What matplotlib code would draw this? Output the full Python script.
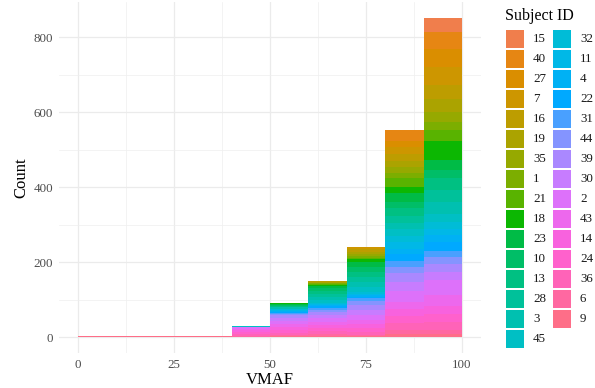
import numpy as np
import matplotlib
matplotlib.use("Agg")
import matplotlib.pyplot as plt
from matplotlib.patches import Rectangle

plt.rcParams['font.family'] = ['Liberation Serif', 'DejaVu Serif']

# subjects in legend / stacking order (first one sits on top of each bar)
subject_ids = ["15", "40", "27", "7", "16", "19", "35", "1", "21", "18", "23", "10",
               "13", "28", "3", "45", "32", "11", "4", "22", "31", "44", "39", "30",
               "2", "43", "14", "24", "36", "6", "9"]

bin_edges = [0, 10, 20, 30, 40, 50, 60, 70, 80, 90, 100]

# counts per VMAF bin, one value per subject (same order as subject_ids)
counts_0_10 = [0] * 30 + [2]
counts_10_20 = [0] * 30 + [2]
counts_20_30 = [0] * 30 + [2]
counts_30_40 = [0] * 30 + [2]
counts_40_50 = [0, 0, 0, 0, 0, 0, 0, 0, 0, 0, 0, 0, 0, 0, 0, 2,
                0, 0, 0, 0, 0, 0, 0, 0, 5, 4, 4, 5, 5, 3, 1]
counts_50_60 = [0, 0, 0, 0, 0, 0, 2, 0, 0, 3, 2, 2, 2, 2, 3, 2,
                2, 2, 2, 3, 3, 4, 6, 8, 10, 8, 6, 8, 6, 4, 2]
counts_60_70 = [0, 0, 0, 0, 3, 2, 1, 2, 2, 3, 6, 6, 8, 8, 8, 8,
                3, 3, 4, 5, 5, 6, 8, 8, 10, 9, 8, 8, 8, 5, 2]
counts_70_80 = [0, 0, 0, 7, 7, 5, 7, 4, 4, 8, 13, 13, 13, 13, 13, 13,
                5, 4, 4, 5, 8, 10, 13, 12, 14, 12, 10, 10, 8, 4, 2]
counts_80_90 = [0, 28, 18, 18, 18, 17, 16, 12, 24, 18, 22, 18, 20, 18, 18, 18,
                16, 18, 13, 18, 16, 16, 25, 25, 28, 20, 18, 18, 18, 12, 8]
counts_90_100 = [38, 46, 47, 47, 37, 37, 25, 22, 28, 51, 28, 20, 34, 31, 31, 22,
                 18, 18, 18, 23, 17, 18, 22, 22, 40, 27, 22, 22, 22, 11, 7]

counts = np.array([counts_0_10, counts_10_20, counts_20_30, counts_30_40, counts_40_50,
                   counts_50_60, counts_60_70, counts_70_80, counts_80_90, counts_90_100]).T


def hcl_to_rgb(h, c=100.0, l=65.0):
    # polar Luv -> sRGB (D65)
    xn, yn, zn = 95.047, 100.0, 108.883
    un = 4 * xn / (xn + 15 * yn + 3 * zn)
    vn = 9 * yn / (xn + 15 * yn + 3 * zn)
    u = c * np.cos(np.radians(h))
    v = c * np.sin(np.radians(h))
    y = yn * ((l + 16) / 116) ** 3
    up = u / (13 * l) + un
    vp = v / (13 * l) + vn
    x = y * 9 * up / (4 * vp)
    z = y * (12 - 3 * up - 20 * vp) / (4 * vp)
    xyz = np.array([x, y, z]) / 100
    m = np.array([[3.2404542, -1.5371385, -0.4985314],
                  [-0.9692660, 1.8760108, 0.0415560],
                  [0.0556434, -0.2040259, 1.0572252]])
    rgb = m @ xyz
    rgb = np.where(rgb <= 0.0031308, 12.92 * rgb, 1.055 * np.abs(rgb) ** (1 / 2.4) - 0.055)
    return tuple(np.clip(rgb, 0, 1))


n = len(subject_ids)
hues = 15 + 360 / (n + 1) * (np.arange(n) + 1)
colors = [hcl_to_rgb(h) for h in hues]

W, H = 595, 388
fig = plt.figure(figsize=(W / 100, H / 100), dpi=100)
ax = fig.add_axes([58.8 / W, 1 - 353 / H, (481.2 - 58.8) / W, (353 - 2) / H])

lefts = np.array(bin_edges[:-1])
widths = np.diff(bin_edges)
totals = counts.sum(axis=0)

# stack from the last subject at the bottom up to the first on top
bottom = np.zeros(len(lefts))
for i in range(n - 1, -1, -1):
    ax.bar(lefts, counts[i], width=widths, bottom=bottom, align='edge',
           color=colors[i], linewidth=0, zorder=3)
    bottom += counts[i]

ymax = totals.max()
ax.set_xlim(-5, 105)
ax.set_ylim(-0.05 * ymax, 1.05 * ymax)

ax.set_xticks([0, 25, 50, 75, 100])
ax.set_xticks([12.5, 37.5, 62.5, 87.5], minor=True)
ax.set_yticks([0, 200, 400, 600, 800])
ax.set_yticks([100, 300, 500, 700], minor=True)
ax.grid(which='major', color='#EBEBEB', linewidth=0.9, zorder=0)
ax.grid(which='minor', color='#EFEFEF', linewidth=0.5, zorder=0)
ax.tick_params(which='both', length=0)
ax.tick_params(axis='x', pad=4, labelsize=9.4, labelcolor='#4D4D4D')
ax.tick_params(axis='y', pad=4, labelsize=9.4, labelcolor='#4D4D4D')
for s in ax.spines.values():
    s.set_visible(False)

ax.set_xlabel("VMAF", fontsize=12, labelpad=1)
ax.set_ylabel("Count", fontsize=12, labelpad=3)

# legend drawn by hand: two columns of square keys
fig.text(505 / W, 1 - 16 / H, "Subject ID", fontsize=11.5, va='center', ha='left')
rows = 16
for i, (sid, col) in enumerate(zip(subject_ids, colors)):
    c, r = divmod(i, rows)
    kx = 506 + c * 47
    ky = 30 + r * 20
    fig.add_artist(Rectangle((kx / W, 1 - (ky + 17.7) / H), 17.7 / W, 17.7 / H,
                             transform=fig.transFigure, color=col, linewidth=0))
    fig.text((kx + 27) / W, 1 - (ky + 9) / H, sid, fontsize=9.4, va='center',
             ha='left', color='#1A1A1A')

fig.savefig("out.png", dpi=100)
